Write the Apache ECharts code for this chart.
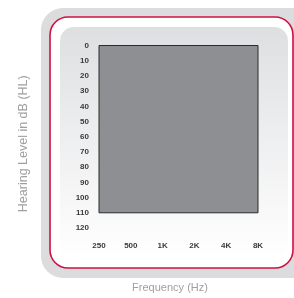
<!DOCTYPE html>
<html>
<head>
<meta charset="utf-8">
<script src="https://cdn.jsdelivr.net/npm/echarts@6/dist/echarts.min.js"></script>
<style>
  html, body { margin: 0; padding: 0; background: #fff; }
  #main { width: 294px; height: 298px; }
</style>
</head>
<body>
<div id="main"></div>
<script>
// audiogram frame: frequencies on x, hearing level on y (inverted)
const frequencies = ['250', '500', '1K', '2K', '4K', '8K'];
const levelTicks = [0, 10, 20, 30, 40, 50, 60, 70, 80, 90, 100, 110, 120];
const shadedRange = [0, 110]; // dB HL band filled in grey

const myChart = echarts.init(document.getElementById('main'), null, { renderer: 'canvas' });

const labelFont = { color: '#3a3a3a', fontSize: 8, fontWeight: 'bold', fontFamily: 'Liberation Sans, Arial, sans-serif' };

const option = {
  animation: false,
  graphic: [
    { type: 'rect', z: -30, shape: { x: 41, y: 8, width: 300, height: 270, r: 22 }, style: { fill: '#dcdcde' } },
    { type: 'rect', z: -29, shape: { x: 50, y: 17, width: 243, height: 251, r: 18 }, style: { fill: '#ffffff', stroke: '#cf1040', lineWidth: 1.6 } },
    {
      type: 'rect', z: -28, shape: { x: 60, y: 27, width: 228, height: 232, r: 14 },
      style: {
        fill: new echarts.graphic.LinearGradient(0, 0, 0, 1, [
          { offset: 0, color: '#dedfe1' },
          { offset: 1, color: '#ffffff' }
        ])
      }
    }
  ],
  grid: { left: 99, right: 36, top: 45.5, bottom: 67.5 },
  xAxis: {
    type: 'category',
    data: frequencies,
    boundaryGap: false,
    axisLine: { show: false },
    axisTick: { show: false },
    splitLine: { show: false },
    axisLabel: { ...labelFont, margin: 14 },
    name: 'Frequency (Hz)',
    nameLocation: 'middle',
    nameGap: 54,
    nameTextStyle: { color: '#a0a0a0', fontSize: 11, padding: [0, 17, 0, 0], fontFamily: 'Liberation Sans, Arial, sans-serif' }
  },
  yAxis: {
    type: 'value',
    inverse: true,
    min: levelTicks[0],
    max: levelTicks[levelTicks.length - 1],
    interval: 10,
    axisLine: { show: false },
    axisTick: { show: false },
    splitLine: { show: false },
    axisLabel: { ...labelFont, margin: 10 },
    name: 'Hearing Level in dB (HL)',
    nameLocation: 'middle',
    nameGap: 69,
    nameTextStyle: { color: '#a0a0a0', fontSize: 12.5, padding: [0, 14, 0, 0], fontFamily: 'Liberation Sans, Arial, sans-serif' }
  },
  series: [
    {
      type: 'line',
      data: [],
      markArea: {
        silent: true,
        itemStyle: { color: '#8e8f93', borderColor: '#2a2a2a', borderWidth: 1 },
        data: [[
          { coord: [frequencies[0], shadedRange[0]] },
          { coord: [frequencies[frequencies.length - 1], shadedRange[1]] }
        ]]
      }
    }
  ]
};

myChart.setOption(option);
</script>
</body>
</html>
